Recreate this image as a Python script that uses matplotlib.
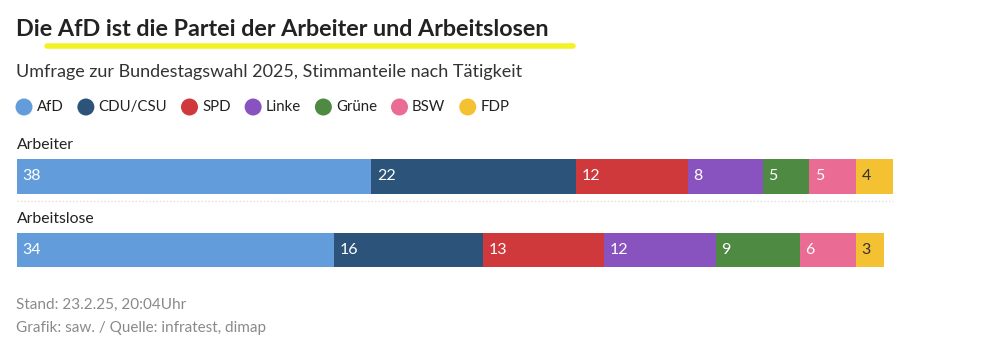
"""
stacked bar: AfD vote share among workers and unemployed (BTW 2025)
outputs: out.png
"""

import matplotlib.pyplot as plt
from matplotlib.patches import Circle

# -- DATA --
groups = ["Arbeiter", "Arbeitslose"]
parties = ["AfD", "CDU/CSU", "SPD", "Linke", "Grüne", "BSW", "FDP"]
arbeiter = [38, 22, 12, 8, 5, 5, 4]
arbeitslose = [34, 16, 13, 12, 9, 6, 3]
values = [arbeiter, arbeitslose]

colors = ["#629cdb", "#2c5379", "#d0393b", "#8953bf", "#4e8a42", "#ea6b93", "#f4c132"]
label_colors = ["white"] * 6 + ["#333333"]

title = "Die AfD ist die Partei der Arbeiter und Arbeitslosen"
subtitle = "Umfrage zur Bundestagswahl 2025, Stimmanteile nach Tätigkeit"
footer = ["Stand: 23.2.25, 20:04Uhr", "Grafik: saw. / Quelle: infratest, dimap"]

# -- STYLE --
W, H = 1000, 355
plt.rcParams["font.family"] = ["Lato", "DejaVu Sans"]
TEXT = "#222222"
GREY = "#8a8a8a"


def fx(px):
    return px / W


def fy(py):
    return 1 - py / H


fig = plt.figure(figsize=(W / 100, H / 100), dpi=100)
fig.patch.set_facecolor("white")

# highlighter marks (hand-drawn in the original)
hl = fig.add_axes([0, 0, 1, 1], zorder=0)
hl.set_xlim(0, W)
hl.set_ylim(H, 0)
hl.axis("off")
hl.plot([47, 573], [45.5, 45.5], color="#f3f000", lw=4, alpha=0.85, solid_capstyle="round")

fig.text(fx(16), fy(29), title, fontsize=16.8, fontweight="bold", color=TEXT,
         va="center", ha="left", zorder=3)
fig.text(fx(16), fy(72), subtitle, fontsize=13, color="#333333", va="center", ha="left")

# legend, laid out by measured text width
renderer = fig.canvas.get_renderer()
x = 15.5
for party, c in zip(parties, colors):
    r = 8.5
    hl.add_patch(Circle((x + r, 107), r, color=c, lw=0))
    t = fig.text(fx(x + 2 * r + 4), fy(107), party, fontsize=10.8, color=TEXT,
                 va="center", ha="left")
    bb = t.get_window_extent(renderer)
    x = bb.x1 + 14

# bars
ax = fig.add_axes([fx(17), fy(286.75), fx(932), 147 / H])
ax.set_xlim(0, 100)
ax.set_ylim(1.5, -0.5)
ax.axis("off")

for gi, (grp, vals) in enumerate(zip(groups, values)):
    left = 0
    for v, c, lc in zip(vals, colors, label_colors):
        ax.barh(gi, v, left=left, height=0.463, color=c, lw=0)
        ax.text(left + 0.6, gi, str(v), color=lc, fontsize=11.5, va="center", ha="left")
        left += v
    ax.text(0, gi - 0.425, grp, fontsize=11.3, color=TEXT, va="center", ha="left")

# separator between rows
ax.plot([0, sum(arbeiter)], [0.335, 0.335], color="#e6dcdc", lw=1, ls=(0, (1, 1.5)))

# small highlights under the AfD values
hl.plot([28, 37], [188, 188], color="#f3f000", lw=3.5, alpha=0.85, solid_capstyle="round")
hl.plot([23, 50], [259, 259], color="#f3f000", lw=3.5, alpha=0.85, solid_capstyle="round")

fig.text(fx(16), fy(305), footer[0], fontsize=11, color=GREY, va="center", ha="left")
fig.text(fx(16), fy(328), footer[1], fontsize=11, color=GREY, va="center", ha="left")

fig.savefig("out.png", dpi=100, facecolor="white")
